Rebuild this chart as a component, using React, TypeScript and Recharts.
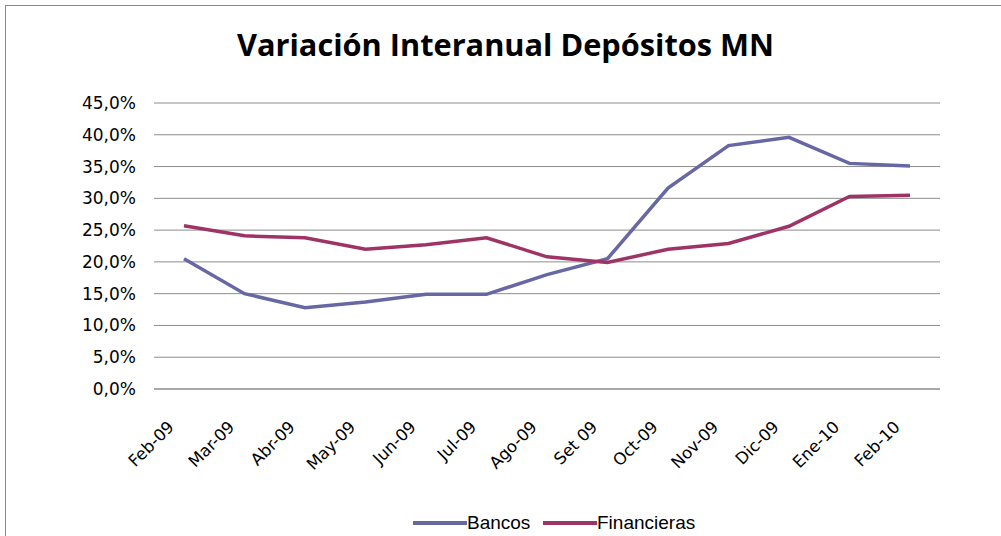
import { LineChart, Line, XAxis, YAxis, CartesianGrid } from "recharts";

const months = [
  "Feb-09",
  "Mar-09",
  "Abr-09",
  "May-09",
  "Jun-09",
  "Jul-09",
  "Ago-09",
  "Set 09",
  "Oct-09",
  "Nov-09",
  "Dic-09",
  "Ene-10",
  "Feb-10",
];

const bancos = [20.5, 15.0, 12.8, 13.7, 14.9, 14.9, 18.0, 20.5, 31.6, 38.3, 39.6, 35.5, 35.1];
const financieras = [25.7, 24.1, 23.8, 22.0, 22.7, 23.8, 20.8, 19.9, 22.0, 22.9, 25.6, 30.3, 30.5];

const yTicks = [0, 5, 10, 15, 20, 25, 30, 35, 40, 45];

const BANCOS_COLOR = "#6767a3";
const FIN_COLOR = "#9e3366";
const GRID = "#8c8c8c";

const data = months.map((m, i) => ({
  month: m,
  bancos: bancos[i],
  financieras: financieras[i],
}));

const formatPct = (v: number) => v.toFixed(1).replace(".", ",") + "%";

function MonthTick({ x, y, payload }: any) {
  const tx = x - 9;
  const ty = y + 39;
  return (
    <text
      x={tx}
      y={ty}
      textAnchor="end"
      fontFamily="DejaVu Sans"
      fontSize={16.5}
      fill="#000"
      transform={`rotate(-45, ${tx}, ${ty})`}
    >
      {payload.value}
    </text>
  );
}

export default function App() {
  return (
    <div
      style={{
        position: "fixed",
        left: 0,
        top: 0,
        width: 1001,
        height: 536,
        overflow: "hidden",
        background: "#fff",
      }}
    >
      <div
        style={{
          position: "absolute",
          left: 5,
          top: 5,
          width: 1100,
          height: 600,
          border: "1.5px solid #8a8a8a",
        }}
      />
      <svg
        width={1001}
        height={80}
        style={{ position: "absolute", left: 0, top: 0 }}
      >
        <text
          x={505.5}
          y={56}
          textAnchor="middle"
          fontFamily="Open Sans"
          fontWeight={700}
          fontSize={30}
          textLength={537}
          lengthAdjust="spacingAndGlyphs"
          fill="#000"
        >
          Variación Interanual Depósitos MN
        </text>
      </svg>
      <div style={{ position: "absolute", left: 0, top: 0 }}>
        <LineChart
          width={1001}
          height={536}
          data={data}
          margin={{ top: 103, right: 61, left: 0, bottom: 57 }}
        >
          <CartesianGrid vertical={false} stroke={GRID} />
          <XAxis
            dataKey="month"
            interval={0}
            height={90}
            padding={{ left: 30, right: 30 }}
            tickLine={false}
            tickSize={0}
            tickMargin={0}
            axisLine={{ stroke: GRID }}
            tick={<MonthTick />}
          />
          <YAxis
            width={154}
            domain={[0, 45]}
            ticks={yTicks}
            tickFormatter={formatPct}
            axisLine={false}
            tickLine={false}
            tickMargin={12}
            tick={{ fontFamily: "DejaVu Sans", fontSize: 17, fill: "#000" }}
          />
          <Line
            type="linear"
            dataKey="bancos"
            stroke={BANCOS_COLOR}
            strokeWidth={3.5}
            dot={false}
            isAnimationActive={false}
          />
          <Line
            type="linear"
            dataKey="financieras"
            stroke={FIN_COLOR}
            strokeWidth={3.5}
            dot={false}
            isAnimationActive={false}
          />
        </LineChart>
      </div>
      <div
        style={{
          position: "absolute",
          left: 413,
          top: 512,
          display: "flex",
          alignItems: "center",
          fontFamily: "Liberation Sans",
          fontSize: 19,
          color: "#000",
          lineHeight: "22px",
        }}
      >
        <span style={{ width: 54, height: 3.5, background: BANCOS_COLOR, display: "inline-block" }} />
        <span style={{ width: 76, display: "inline-block" }}>Bancos</span>
        <span style={{ width: 54, height: 3.5, background: FIN_COLOR, display: "inline-block" }} />
        <span>Financieras</span>
      </div>
    </div>
  );
}
